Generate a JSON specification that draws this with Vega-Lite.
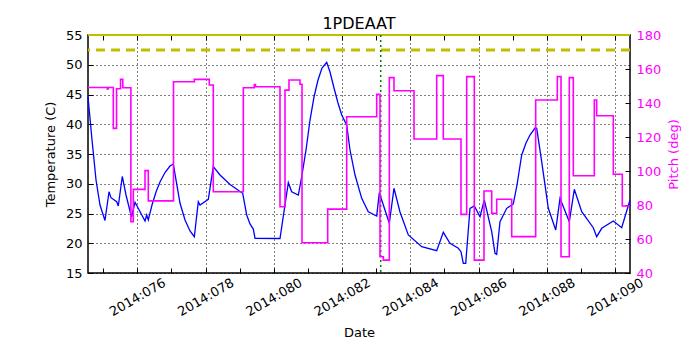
{
  "$schema": "https://vega.github.io/schema/vega-lite/v6.json",
  "width": 542,
  "height": 238,
  "autosize": {"type": "none"},
  "padding": {"left": 88, "top": 35, "right": 70, "bottom": 77},
  "title": {"text": "1PDEAAT", "fontSize": 16, "font": "DejaVu Sans", "fontWeight": "normal", "anchor": "middle", "offset": -16, "baseline": "alphabetic", "color": "black"},
  "config": {
    "view": {"stroke": "black", "strokeWidth": 1.5},
    "font": "DejaVu Sans",
    "axis": {
      "labelFont": "DejaVu Sans", "titleFont": "DejaVu Sans",
      "labelFontSize": 13, "titleFontSize": 13, "titleFontWeight": "normal",
      "labelColor": "black", "titleColor": "black", "tickColor": "black",
      "domain": false, "gridColor": "black", "gridDash": [1, 3], "gridWidth": 1, "gridOpacity": 1
    }
  },
  "datasets": {
    "temp": [
      {"d":74.555,"t":44.63},{"d":74.673,"t":37.35},{"d":74.79,"t":30.63},{"d":74.907,"t":26.43},{"d":75.053,"t":23.82},{"d":75.171,"t":28.66},{"d":75.229,"t":27.66},{"d":75.396,"t":26.98},{"d":75.443,"t":26.26},{"d":75.56,"t":31.22},{"d":75.669,"t":28.11},{"d":75.83,"t":24.41},{"d":75.933,"t":26.88},{"d":76.226,"t":23.74},{"d":76.275,"t":24.75},{"d":76.322,"t":23.91},{"d":76.431,"t":26.43},{"d":76.548,"t":28.61},{"d":76.665,"t":30.29},{"d":76.812,"t":31.89},{"d":76.958,"t":32.98},{"d":77.055,"t":33.32},{"d":77.149,"t":30.13},{"d":77.251,"t":26.76},{"d":77.398,"t":23.91},{"d":77.545,"t":22.06},{"d":77.671,"t":21.1},{"d":77.788,"t":26.98},{"d":77.838,"t":26.43},{"d":78.081,"t":27.39},{"d":78.227,"t":32.87},{"d":78.424,"t":31.47},{"d":78.717,"t":29.87},{"d":79.089,"t":28.39},{"d":79.206,"t":24.75},{"d":79.303,"t":23.24},{"d":79.4,"t":22.39},{"d":79.45,"t":20.83},{"d":80.182,"t":20.8},{"d":80.426,"t":30.18},{"d":80.525,"t":28.66},{"d":80.719,"t":28.11},{"d":80.827,"t":31.47},{"d":80.944,"t":35.67},{"d":81.062,"t":40.71},{"d":81.179,"t":44.58},{"d":81.296,"t":47.44},{"d":81.413,"t":49.45},{"d":81.551,"t":50.41},{"d":81.648,"t":48.78},{"d":81.765,"t":46.09},{"d":81.882,"t":43.57},{"d":81.991,"t":41.55},{"d":82.137,"t":39.87},{"d":82.234,"t":35.67},{"d":82.381,"t":31.47},{"d":82.577,"t":27.55},{"d":82.77,"t":25.3},{"d":83.016,"t":24.58},{"d":83.093,"t":28.5},{"d":83.386,"t":23.35},{"d":83.523,"t":29.24},{"d":83.699,"t":25.25},{"d":83.943,"t":21.39},{"d":84.335,"t":19.42},{"d":84.775,"t":18.75},{"d":84.968,"t":21.84},{"d":85.165,"t":19.99},{"d":85.408,"t":19.15},{"d":85.487,"t":18.58},{"d":85.554,"t":16.63},{"d":85.625,"t":16.63},{"d":85.751,"t":25.87},{"d":85.877,"t":26.26},{"d":86.044,"t":24.46},{"d":86.17,"t":27.27},{"d":86.387,"t":21.94},{"d":86.484,"t":18.31},{"d":86.533,"t":18.14},{"d":86.63,"t":23.62},{"d":86.826,"t":25.87},{"d":87.02,"t":26.6},{"d":87.128,"t":29.79},{"d":87.266,"t":34.83},{"d":87.392,"t":36.85},{"d":87.509,"t":38.19},{"d":87.656,"t":39.37},{"d":87.706,"t":39.32},{"d":87.852,"t":33.71},{"d":88.046,"t":25.87},{"d":88.263,"t":22.23},{"d":88.389,"t":27.55},{"d":88.661,"t":23.62},{"d":88.808,"t":29.07},{"d":89.025,"t":25.3},{"d":89.364,"t":22.61},{"d":89.464,"t":21.1},{"d":89.611,"t":22.51},{"d":89.951,"t":23.74},{"d":90.197,"t":22.61},{"d":90.44,"t":27.27}
    ],
    "pitch": [
      {"d":74.555,"p":149.1},{"d":75.121,"p":148.2},{"d":75.15,"p":149.1},{"d":75.297,"p":125.1},{"d":75.391,"p":148.4},{"d":75.508,"p":153.9},{"d":75.575,"p":149.0},{"d":75.812,"p":70.2},{"d":75.883,"p":89.2},{"d":76.226,"p":100.2},{"d":76.322,"p":82.4},{"d":77.061,"p":152.5},{"d":77.671,"p":153.9},{"d":78.11,"p":150.6},{"d":78.227,"p":87.8},{"d":79.107,"p":149.0},{"d":79.429,"p":150.9},{"d":79.464,"p":149.6},{"d":80.182,"p":79.0},{"d":80.329,"p":147.6},{"d":80.446,"p":153.5},{"d":80.768,"p":151.0},{"d":80.827,"p":57.8},{"d":81.58,"p":77.6},{"d":82.137,"p":131.9},{"d":83.016,"p":145.1},{"d":83.113,"p":49.6},{"d":83.21,"p":47.6},{"d":83.386,"p":154.9},{"d":83.523,"p":147.2},{"d":84.11,"p":118.8},{"d":84.775,"p":156.1},{"d":84.968,"p":118.8},{"d":85.487,"p":74.5},{"d":85.654,"p":155.5},{"d":85.877,"p":47.6},{"d":86.161,"p":88.2},{"d":86.387,"p":75.1},{"d":86.533,"p":83.4},{"d":86.973,"p":61.4},{"d":87.676,"p":141.8},{"d":88.309,"p":155.5},{"d":88.418,"p":49.6},{"d":88.661,"p":154.9},{"d":88.778,"p":97.2},{"d":89.394,"p":141.8},{"d":89.464,"p":132.5},{"d":89.951,"p":98.1},{"d":90.214,"p":79.4},{"d":90.44,"p":79.4}
    ]
  },
  "layer": [
    {
      "data": {"name": "temp"},
      "mark": {"type": "line", "color": "#0000ff", "strokeWidth": 1.3},
      "encoding": {
        "x": {"field": "d", "type": "quantitative",
          "scale": {"domain": [74.555, 90.44], "nice": false, "zero": false},
          "axis": {"orient": "bottom", "values": [76, 78, 80, 82, 84, 86, 88, 90],
            "labelExpr": "'2014:0' + datum.value", "labelAngle": -30, "labelAlign": "center", "labelBaseline": "middle",
            "tickSize": -5, "labelPadding": 29, "grid": true, "title": "Date", "titlePadding": 8}},
        "y": {"field": "t", "type": "quantitative",
          "scale": {"domain": [15, 55], "nice": false, "zero": false},
          "axis": {"orient": "left", "values": [15, 20, 25, 30, 35, 40, 45, 50, 55],
            "tickSize": -5, "labelPadding": 11, "grid": true, "title": "Temperature (C)", "titlePadding": 8}}
      }
    },
    {
      "data": {"values": [{"v": 52.5}]},
      "mark": {"type": "rule", "color": "#bfbf00", "strokeWidth": 3, "strokeDash": [9, 6]},
      "encoding": {"y": {"field": "v", "type": "quantitative", "scale": {"domain": [15, 55], "nice": false, "zero": false}, "axis": null}}
    },
    {
      "data": {"values": [{"v": 55}]},
      "mark": {"type": "rule", "color": "#bfbf00", "strokeWidth": 2},
      "encoding": {"y": {"field": "v", "type": "quantitative", "scale": {"domain": [15, 55], "nice": false, "zero": false}, "axis": null}}
    },
    {
      "data": {"values": [{"d": 83.134}]},
      "mark": {"type": "rule", "color": "#008000", "strokeWidth": 1.5, "strokeDash": [2, 3]},
      "encoding": {"x": {"field": "d", "type": "quantitative",
        "scale": {"domain": [74.555, 90.44], "nice": false, "zero": false},
        "axis": {"orient": "bottom", "values": [75, 77, 79, 81, 83, 85, 87, 89], "labels": false, "tickSize": -5, "grid": false, "title": null}}}
    },
    {
      "data": {"name": "pitch"},
      "mark": {"type": "line", "color": "#ff00ff", "strokeWidth": 1.6, "interpolate": "step-after"},
      "encoding": {
        "x": {"field": "d", "type": "quantitative",
          "scale": {"domain": [74.555, 90.44], "nice": false, "zero": false},
          "axis": {"orient": "top", "values": [75, 76, 77, 78, 79, 80, 81, 82, 83, 84, 85, 86, 87, 88, 89, 90], "labels": false, "tickSize": -5, "grid": false, "title": null}},
        "y": {"field": "p", "type": "quantitative",
          "scale": {"domain": [40, 180], "nice": false, "zero": false},
          "axis": {"orient": "right", "values": [40, 60, 80, 100, 120, 140, 160, 180],
            "tickSize": -5, "labelPadding": 11, "labelColor": "#ff00ff", "titleColor": "#ff00ff",
            "title": "Pitch (deg)", "titleAngle": 270, "titleBaseline": "top", "titlePadding": 7, "grid": false}}
      }
    }
  ],
  "resolve": {"scale": {"y": "independent"}, "axis": {"x": "independent", "y": "independent"}}
}
